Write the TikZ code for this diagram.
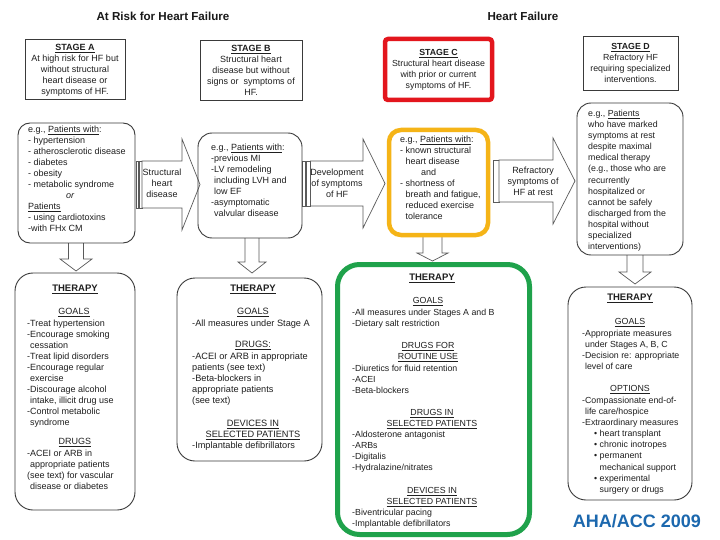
\documentclass[tikz,border=0pt]{standalone}
\usepackage{fontspec}
\setmainfont{Liberation Sans}
\definecolor{redC}{HTML}{E3161D}
\definecolor{orgC}{HTML}{F5B417}
\definecolor{grnC}{HTML}{1FA24B}
\definecolor{bluT}{HTML}{1C68AE}
\definecolor{lnC}{HTML}{3A3A3A}
\definecolor{arC}{HTML}{5A5A5A}
\newcommand\fsA{\fontsize{9}{11}\selectfont}
\newcommand\fsB{\fontsize{9.2}{11}\selectfont}
\newcommand\fsC{\fontsize{8.8}{11}\selectfont}
\newcommand\fsD{\fontsize{8.8}{11.1}\selectfont}
\newcommand\fsH{\fontsize{9.5}{11}\selectfont\bfseries}
\newcommand\myul[1]{\underline{#1}}
\tikzset{
  sbox/.style={draw=lnC, line width=0.9pt, inner sep=0pt},
  rbox/.style={sbox, rounded corners=#1},
  blk/.style={draw=arC, line width=0.7pt, fill=white, line join=miter},
  lst/.style={anchor=north west, inner sep=0pt, align=left, yshift=4.5pt, text=black!88},
  ctr/.style={anchor=north, inner sep=0pt, align=center, yshift=4.5pt, text=black!88},
  ttl/.style={inner sep=0pt, font=\fontsize{11.6}{13}\selectfont\bfseries, text=black!90}
}
\begin{document}
\begin{tikzpicture}[x=1pt,y=-1pt]
\fill[white] (0,0) rectangle (720,540);
\useasboundingbox (0,0) rectangle (720,540);

% titles
\node[ttl] (t1) at (163,16) {At Risk for Heart Failure};
\node[ttl] (t2) at (523,16.5) {Heart Failure};

% stage boxes
\node[sbox, minimum width=100pt, minimum height=60pt] (stA) at (75,69) {};
\node[sbox, minimum width=102pt, minimum height=60pt] (stB) at (251,70) {};
\node[draw=redC, line width=4.5pt, rounded corners=3pt, inner sep=0pt, minimum width=107pt, minimum height=61pt] (stC) at (438.5,69.5) {};
\node[sbox, minimum width=95pt, minimum height=54pt] (stD) at (630.5,63) {};

\node[ctr, font=\fsA] (tA) at (75,47) {\strut\textbf{\myul{STAGE A}}\\At high risk for HF but\\without structural\\heart disease or\\symptoms of HF.};
\node[ctr, font=\fsA] (tB) at (251,48) {\strut\textbf{\myul{STAGE B}}\\Structural heart\\disease but without\\signs or\ \ symptoms of\\HF.};
\node[ctr, font=\fsC] (tC) at (438.5,52) {\strut\textbf{\myul{STAGE C}}\\Structural heart disease\\with prior or current\\symptoms of HF.};
\node[ctr, font=\fsC] (tD) at (630.5,46) {\strut\textbf{\myul{STAGE D}}\\Refractory HF\\requiring specialized\\interventions.};

% horizontal block arrows
\draw[blk] (136,161) rectangle (138.5,208);
\draw[blk] (139.5,161) rectangle (142,208);
\draw[blk] (142,161) -- (182,161) -- (182,139) -- (200,184.5) -- (182,230) -- (182,208) -- (142,208) -- cycle;
\draw[blk] (302.5,161) rectangle (305.5,206);
\draw[blk] (306.5,161) rectangle (310.5,206);
\draw[blk] (310.5,161) -- (363,161) -- (363,139) -- (385,183.5) -- (363,228) -- (363,206) -- (310.5,206) -- cycle;
\draw[blk] (493.5,160) rectangle (499,202);
\draw[blk] (499,160) -- (553,160) -- (553,138) -- (575,181) -- (553,224) -- (553,202) -- (499,202) -- cycle;

\node[ctr, font=\fsA] (arA) at (162,172) {\strut Structural\\heart\\disease};
\node[ctr, font=\fsA] (arB) at (337,172) {\strut Development\\of symptoms\\of HF};
\node[ctr, font=\fsA] (arC) at (533,170) {\strut Refractory\\symptoms of\\HF at rest};

% down block arrows
\draw[blk] (68.5,243) -- (68.5,259) -- (60,259) -- (76,271) -- (92,259) -- (83.5,259) -- (83.5,243);
\draw[blk] (245,238) -- (245,262) -- (238,262) -- (252,273) -- (266,262) -- (259,262) -- (259,238);
\draw[blk] (423,237) -- (423,253) -- (417,253) -- (432.5,261) -- (448,253) -- (442,253) -- (442,237);
\draw[blk] (627,255) -- (627,272) -- (619,272) -- (635,284) -- (651,272) -- (643,272) -- (643,255);

% row 2 boxes
\node[rbox=12pt, minimum width=117pt, minimum height=120pt] (pA) at (76.5,183) {};
\node[rbox=14pt, minimum width=104pt, minimum height=105pt] (pB) at (250,185.5) {};
\node[draw=orgC, line width=4.5pt, rounded corners=12pt, inner sep=0pt, minimum width=99pt, minimum height=105pt] (pC) at (438.5,182.5) {};
\node[rbox=14pt, minimum width=106pt, minimum height=152pt] (pD) at (630,179) {};

\node[lst, font=\fsA] (xA) at (28,129) {\strut e.g., \myul{Patients with}:\\- hypertension\\- atherosclerotic disease\\- diabetes\\- obesity\\- metabolic syndrome\\\hspace*{38pt}\textit{or}\\\myul{Patients}\\- using cardiotoxins\\-with FHx CM};
\node[lst, font=\fsA] (xB) at (211,147) {\strut e.g., \myul{Patients with}:\\-previous MI\\-LV remodeling\\\phantom{-}including LVH and\\\phantom{-}low EF\\-asymptomatic\\\phantom{-}valvular disease};
\node[lst, font=\fsA] (xC) at (400,139) {\strut e.g., \myul{Patients with}:\\- known structural\\\phantom{- }heart disease\\\hspace*{21pt}and\\- shortness of\\\phantom{- }breath and fatigue,\\\phantom{- }reduced exercise\\\phantom{- }tolerance};
\node[lst, font=\fsD] (xD) at (588,113) {\strut e.g., \myul{Patients}\\who have marked\\symptoms at rest\\despite maximal\\medical therapy\\(e.g., those who are\\recurrently\\hospitalized or\\cannot be safely\\discharged from the\\hospital without\\specialized\\interventions)};

% row 3 boxes
\node[rbox=18pt, minimum width=120pt, minimum height=237pt] (qA) at (75,391.5) {};
\node[rbox=18pt, minimum width=145pt, minimum height=183pt] (qB) at (249.5,369.5) {};
\node[draw=grnC, line width=5pt, rounded corners=22pt, inner sep=0pt, minimum width=192pt, minimum height=270pt] (qC) at (433.5,399.5) {};
\node[rbox=18pt, minimum width=124pt, minimum height=213pt] (qD) at (630,393.5) {};

% therapy A
\node[ctr, font=\fsH] (hA) at (75,288) {\strut\myul{THERAPY}};
\node[ctr, font=\fsA] (gA) at (74,311) {\strut\myul{GOALS}};
\node[lst, font=\fsA] (lA1) at (27,323) {\strut -Treat hypertension\\-Encourage smoking\\\phantom{-}cessation\\-Treat lipid disorders\\-Encourage regular\\\phantom{-}exercise\\-Discourage alcohol\\\phantom{-}intake, illicit drug use\\-Control metabolic\\\phantom{-}syndrome};
\node[ctr, font=\fsA] (dA) at (75,441) {\strut\myul{DRUGS}};
\node[lst, font=\fsA] (lA2) at (27,453) {\strut -ACEI or ARB in\\\phantom{-}appropriate patients\\(see text) for vascular\\\phantom{-}disease or diabetes};

% therapy B
\node[ctr, font=\fsH] (hB) at (253,288) {\strut\myul{THERAPY}};
\node[ctr, font=\fsB] (gB) at (253,311) {\strut\myul{GOALS}};
\node[lst, font=\fsB] (lB1) at (192,323) {\strut -All measures under Stage A};
\node[ctr, font=\fsB] (dB) at (253,344) {\strut\myul{DRUGS:}};
\node[lst, font=\fsB] (lB2) at (192,356) {\strut -ACEI or ARB in appropriate\\patients (see text)\\-Beta-blockers in\\appropriate patients\\(see text)};
\node[ctr, font=\fsB] (vB) at (253,423) {\strut\myul{DEVICES IN}\\\myul{SELECTED PATIENTS}};
\node[lst, font=\fsB] (lB3) at (192,445) {\strut -Implantable defibrillators};

% therapy C
\node[ctr, font=\fsH] (hC) at (432,277) {\strut\myul{THERAPY}};
\node[ctr, font=\fsC] (gC) at (428,300) {\strut\myul{GOALS}};
\node[lst, font=\fsC] (lC1) at (352,312) {\strut -All measures under Stages A and B\\-Dietary salt restriction};
\node[ctr, font=\fsC] (dC1) at (428,345) {\strut\myul{DRUGS FOR}\\\myul{ROUTINE USE}};
\node[lst, font=\fsC] (lC2) at (352,368) {\strut -Diuretics for fluid retention\\-ACEI\\-Beta-blockers};
\node[ctr, font=\fsC] (dC2) at (432,412) {\strut\myul{DRUGS IN}\\\myul{SELECTED PATIENTS}};
\node[lst, font=\fsD] (lC3) at (352,434) {\strut -Aldosterone antagonist\\-ARBs\\-Digitalis\\-Hydralazine/nitrates};
\node[ctr, font=\fsC] (dC3) at (432,490) {\strut\myul{DEVICES IN}\\\myul{SELECTED PATIENTS}};
\node[lst, font=\fsC] (lC4) at (352,512) {\strut -Biventricular pacing\\-Implantable defibrillators};

% therapy D
\node[ctr, font=\fsH] (hD) at (630,297) {\strut\myul{THERAPY}};
\node[ctr, font=\fsD] (gD) at (630,321) {\strut\myul{GOALS}};
\node[lst, font=\fsD] (lD1) at (582,333) {\strut -Appropriate measures\\\phantom{-}under Stages A, B, C\\-Decision re: appropriate\\\phantom{-}level of care};
\node[ctr, font=\fsD] (oD) at (630,388) {\strut\myul{OPTIONS}};
\node[lst, font=\fsD] (lD2) at (582,400) {\strut -Compassionate end-of-\\\phantom{-}life care/hospice\\-Extraordinary measures\\\hspace*{12pt}\textbullet\ heart transplant\\\hspace*{12pt}\textbullet\ chronic inotropes\\\hspace*{12pt}\textbullet\ permanent\\\hspace*{12pt}\phantom{\textbullet\ }mechanical support\\\hspace*{12pt}\textbullet\ experimental\\\hspace*{12pt}\phantom{\textbullet\ }surgery or drugs};

% source
\node[inner sep=0pt, font=\fontsize{18}{20}\selectfont\bfseries, text=bluT] (src) at (637,521) {AHA/ACC 2009};
\end{tikzpicture}
\end{document}
